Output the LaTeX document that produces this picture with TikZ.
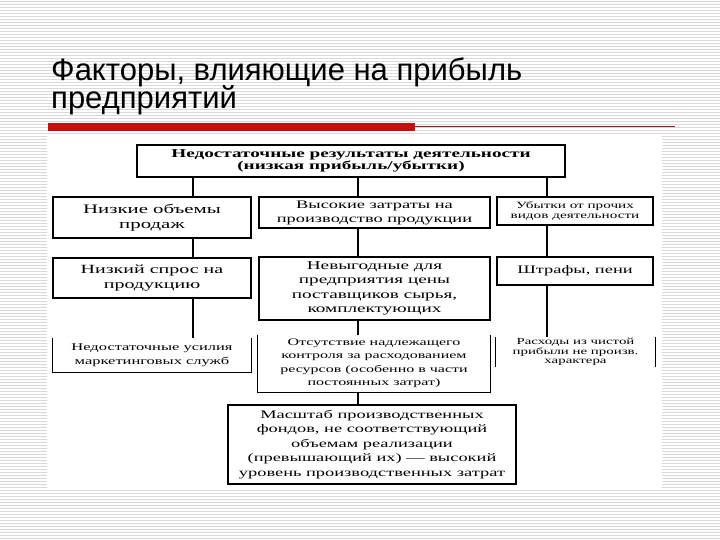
\documentclass[tikz,border=0pt]{standalone}
\usepackage{fontspec}
\setmainfont{Liberation Serif}
\newfontfamily\titlefont{Liberation Sans}
\newfontfamily\boxfont[FakeStretch=1.6]{Liberation Serif}
\usepackage{tikz}
\usetikzlibrary{calc}

\definecolor{stripegray}{gray}{0.85}
\definecolor{barred}{RGB}{200,14,14}
\definecolor{thinred}{RGB}{140,30,30}

\begin{document}
\begin{tikzpicture}[x=1pt, y=-1pt,
    factor/.style={draw, line width=1.3pt, align=center, inner sep=0pt},
    openbox/.style={align=center, inner sep=0pt},
    link/.style={line width=1.8pt},
    edge/.style={line width=1.3pt}]
    \useasboundingbox (0,0) rectangle (720,540);

    % Lined slide background
    \fill[white] (0,0) rectangle (720,540);
    \foreach \y in {1.5,4.5,...,540}
        \draw[stripegray, line width=1pt] (0,\y) -- (720,\y);

    % Title
    \node[anchor=base west, inner sep=0pt, font=\titlefont\fontsize{31}{33}\selectfont] (title1) at (51,81) {Факторы, влияющие на прибыль};
    \node[anchor=base west, inner sep=0pt, font=\titlefont\fontsize{31}{33}\selectfont] (title2) at (51,109) {предприятий};

    % Red rule under the title
    \fill[barred] (48,123) rectangle (415,131);
    \draw[thinred, line width=0.8pt] (415,126.5) -- (675,126.5);

    % White sheet of the scheme
    \fill[white] (47,136) rectangle (662,488);

    % Top box
    \node[factor, minimum width=428, minimum height=32, font=\boxfont\bfseries\fontsize{12}{12.5}\selectfont] (top) at (351,161)
        {Недостаточные результаты деятельности\\(низкая прибыль/убытки)};

    % First row
    \node[factor, minimum width=198, minimum height=41, font=\boxfont\fontsize{13}{15.5}\selectfont] (low1) at (152,217.5)
        {Низкие объемы\\продаж};
    \node[factor, minimum width=231, minimum height=31, font=\boxfont\fontsize{11.5}{14}\selectfont] (mid1) at (374.5,212.5)
        {Высокие затраты на\\производство продукции};
    \node[factor, minimum width=156, minimum height=28, font=\boxfont\fontsize{9.5}{10.5}\selectfont] (right1) at (575,211)
        {Убытки от прочих\\видов деятельности};

    % Second row
    \node[factor, minimum width=198, minimum height=40, font=\boxfont\fontsize{12.5}{15}\selectfont] (low2) at (152,278)
        {Низкий спрос на\\продукцию};
    \node[factor, minimum width=231, minimum height=63, font=\boxfont\fontsize{12}{14.5}\selectfont] (mid2) at (374.5,288.5)
        {Невыгодные для\\предприятия цены\\поставщиков сырья,\\комплектующих};
    \node[factor, minimum width=156, minimum height=28, font=\boxfont\fontsize{11.5}{14}\selectfont] (right2) at (575,271)
        {Штрафы, пени};

    % Third row (boxes open at the top)
    \node[openbox, minimum width=198, minimum height=34, font=\boxfont\fontsize{10.3}{13.5}\selectfont] (low3) at (152,355)
        {Недостаточные усилия\\маркетинговых служб};
    \node[openbox, minimum width=232, minimum height=57, font=\boxfont\fontsize{10}{13.5}\selectfont] (mid3) at (374,363.5)
        {Отсутствие надлежащего\\контроля за расходованием\\ресурсов (особенно в части\\постоянных затрат)};
    \node[openbox, minimum width=159, minimum height=30, font=\boxfont\fontsize{9.3}{9.5}\selectfont] (right3) at (575.5,352)
        {Расходы из чистой\\прибыли не произв.\\характера};
    \draw[edge] (low3.north west) -- (low3.south west) -- (low3.south east) -- (low3.north east);
    \draw[edge] (mid3.north west) -- (mid3.south west) -- (mid3.south east) -- (mid3.north east);
    \draw[edge] (right3.north west) -- (right3.south west);
    \draw[edge] (right3.north east) -- (right3.south east);

    % Bottom box
    \node[factor, minimum width=288, minimum height=79, font=\boxfont\fontsize{11.5}{14.5}\selectfont] (base) at (372,444.5)
        {Масштаб производственных\\фондов, не соответствующий\\объемам реализации\\(превышающий их) — высокий\\уровень производственных затрат};

    % Connectors
    \coordinate (colL) at (193,0);
    \coordinate (colM) at (358,0);
    \coordinate (colR) at (547,0);
    \draw[link] (top.south -| colL) -- (low1.north -| colL);
    \draw[link] (low1.south -| colL) -- (low2.north -| colL);
    \draw[link] (low2.south -| colL) -- (low3.north -| colL);
    \draw[link] (top.south -| colM) -- (mid1.north -| colM);
    \draw[link] (mid1.south -| colM) -- (mid2.north -| colM);
    \draw[link] (mid2.south -| colM) -- (mid3.north -| colM);
    \draw[link] (mid3.south -| colM) -- (base.north -| colM);
    \draw[link] (top.south -| colR) -- (right1.north -| colR);
    \draw[link] (right1.south -| colR) -- (right2.north -| colR);
    \draw[link] (right2.south -| colR) -- (right3.north -| colR);
\end{tikzpicture}
\end{document}
